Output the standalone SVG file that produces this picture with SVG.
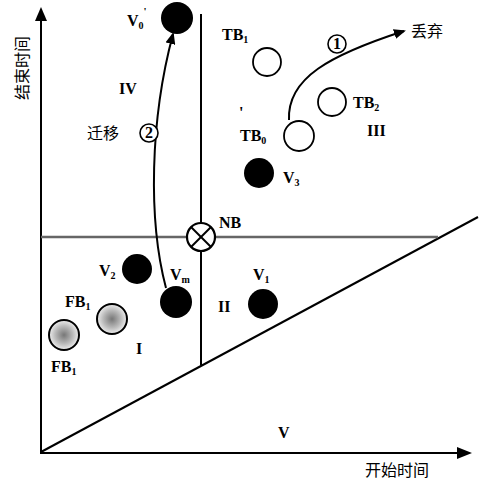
<svg xmlns="http://www.w3.org/2000/svg" width="486" height="482" viewBox="0 0 486 482">
<style>
.t{font-family:"Liberation Serif","Noto Sans CJK SC",serif;font-size:16px;font-weight:bold;fill:#000}
.cn{font-family:"Liberation Serif","Noto Sans CJK SC",serif;font-size:16px;fill:#000}
.ln{stroke:#000;stroke-width:2;fill:none}
.filled{fill:#000}
.open{fill:#fff;stroke:#000;stroke-width:1.8}
.fb{fill:url(#g);stroke:#000;stroke-width:2}
.num{fill:#fff;stroke:#000;stroke-width:1.6}
</style>
<defs>
<marker id="ah" markerWidth="12" markerHeight="10" refX="10" refY="5" orient="auto" markerUnits="userSpaceOnUse">
<path d="M0,0 L12,5 L0,10 Z" fill="#000"/>
</marker>
<radialGradient id="g" cx="50%" cy="50%" r="50%">
<stop offset="0" stop-color="#777"/>
<stop offset="0.6" stop-color="#bbb"/>
<stop offset="1" stop-color="#eee"/>
</radialGradient>
</defs>
<rect width="486" height="482" fill="#fff"/>
<g id="axes">
<line class="ln" x1="41" y1="453" x2="41" y2="20"/>
<path d="M41,7 L35,21 L47,21 Z" fill="#000"/>
<line class="ln" x1="40" y1="453" x2="458" y2="453"/>
<path d="M472,453 L457,447 L457,459 Z" fill="#000"/>
<line class="ln" x1="41" y1="452" x2="478" y2="217"/>
<line class="ln" x1="201" y1="14" x2="201" y2="365"/>
<line x1="41" y1="237" x2="438" y2="237" stroke="#666" stroke-width="2.5"/>
<text class="cn" x="365" y="476" font-size="18">开始时间</text>
<text class="cn" transform="translate(28,68) rotate(-90)" text-anchor="middle" font-size="18">结束时间</text>
</g>
<g id="connectors">
<path class="ln" d="M289,120 C287,78 330,55 404,31" marker-end="url(#ah)"/>
<path class="ln" d="M166,288 C148,220 150,120 173,34" stroke-width="1.6" marker-end="url(#ah)"/>
</g>
<g id="NB">
<circle cx="201" cy="237" r="14" fill="#fff" stroke="#000" stroke-width="2.2"/>
<line x1="191" y1="227" x2="211" y2="247" stroke="#000" stroke-width="2"/>
<line x1="211" y1="227" x2="191" y2="247" stroke="#000" stroke-width="2"/>
<text class="t" x="219" y="228">NB</text>
</g>
<g id="V0p">
<circle class="filled" cx="177" cy="18" r="16"/>
<text class="t" x="127" y="26">V<tspan font-size="10" dy="3">0</tspan><tspan font-size="11" dy="-14">'</tspan></text>
</g>
<g id="V3">
<circle class="filled" cx="259" cy="173" r="15"/>
<text class="t" x="283" y="183">V<tspan font-size="10" dy="3">3</tspan></text>
</g>
<g id="V2">
<circle class="filled" cx="137" cy="269" r="15"/>
<text class="t" x="99" y="276">V<tspan font-size="10" dy="3">2</tspan></text>
</g>
<g id="Vm">
<circle class="filled" cx="176" cy="302" r="16"/>
<text class="t" x="170" y="280">V<tspan font-size="10" dy="3">m</tspan></text>
</g>
<g id="V1">
<circle class="filled" cx="263" cy="304" r="15"/>
<text class="t" x="253" y="280">V<tspan font-size="10" dy="3">1</tspan></text>
</g>
<g id="TB1">
<circle class="open" cx="267" cy="62" r="14"/>
<text class="t" x="222" y="40">TB<tspan font-size="10" dy="3">1</tspan></text>
</g>
<g id="TB2">
<circle class="open" cx="332" cy="102" r="14"/>
<text class="t" x="353" y="108">TB<tspan font-size="10" dy="3">2</tspan></text>
</g>
<g id="TB0">
<circle class="open" cx="299" cy="136" r="15"/>
<text class="t" x="240" y="141">TB<tspan font-size="10" dy="3">0</tspan></text>
<text class="t" x="239" y="118" font-size="12">'</text>
</g>
<g id="FB1a">
<circle class="fb" cx="112" cy="319" r="15"/>
<text class="t" x="65" y="307">FB<tspan font-size="10" dy="3">1</tspan></text>
</g>
<g id="FB1b">
<circle class="fb" cx="64" cy="335" r="15"/>
<text class="t" x="51" y="372">FB<tspan font-size="10" dy="3">1</tspan></text>
</g>
<g id="mark1">
<circle class="num" cx="337" cy="44" r="9"/>
<text class="t" x="337" y="49" font-size="13" font-weight="normal" text-anchor="middle">1</text>
<text class="cn" x="411" y="37">丢弃</text>
</g>
<g id="mark2">
<circle class="num" cx="149" cy="133" r="9"/>
<text class="t" x="149" y="138" font-size="13" font-weight="normal" text-anchor="middle">2</text>
<text class="cn" x="87" y="139">迁移</text>
</g>
<g id="regions">
<text class="t" x="119" y="94">IV</text>
<text class="t" x="367" y="136">III</text>
<text class="t" x="218" y="312">II</text>
<text class="t" x="136" y="354">I</text>
<text class="t" x="278" y="438">V</text>
</g>
</svg>
